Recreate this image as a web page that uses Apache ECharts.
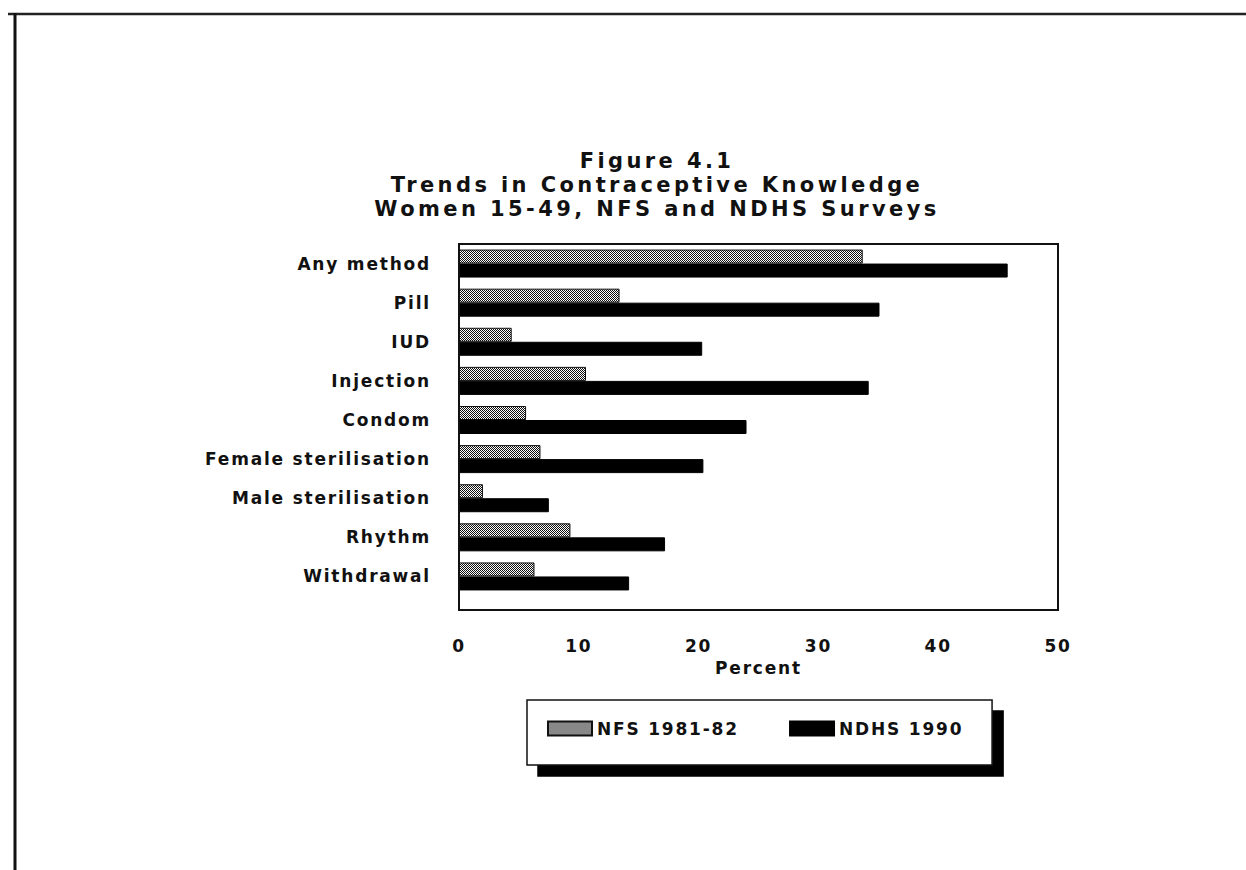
<!DOCTYPE html>
<html>
<head>
<meta charset="utf-8">
<script src="https://cdn.jsdelivr.net/npm/echarts@6/dist/echarts.min.js"></script>
<style>
html,body{margin:0;padding:0;background:#fff;}
#chart{width:1246px;height:870px;}
#chart text{letter-spacing:1.8px;}
#chart text[style*="21px"]{letter-spacing:3.4px;}
</style>
</head>
<body>
<div id="chart"></div>
<script>
const titleLines = ['Figure 4.1', 'Trends in Contraceptive Knowledge', 'Women 15-49, NFS and NDHS Surveys'];
const categories = ['Any method', 'Pill', 'IUD', 'Injection', 'Condom', 'Female sterilisation', 'Male sterilisation', 'Rhythm', 'Withdrawal'];
const nfs1981 = [33.7, 13.4, 4.4, 10.6, 5.6, 6.8, 2.0, 9.3, 6.3];
const ndhs1990 = [45.8, 35.1, 20.3, 34.2, 24.0, 20.4, 7.5, 17.2, 14.2];
const seriesNames = ['NFS 1981-82', 'NDHS 1990'];
const xMin = 0, xMax = 50, xStep = 10;
const xName = 'Percent';

// dithered grey pattern
const pc = document.createElement('canvas');
pc.width = 4; pc.height = 4;
const pctx = pc.getContext('2d');
pctx.fillStyle = '#fff'; pctx.fillRect(0, 0, 4, 4);
pctx.fillStyle = '#111';
[[0,0],[2,0],[1,1],[3,1],[0,2],[2,2],[1,3],[3,3]].forEach(p => pctx.fillRect(p[0], p[1], 1, 1));
const greyPattern = { image: pc.toDataURL(), repeat: 'repeat' };

const font = 'DejaVu Sans, Verdana, sans-serif';
const chart = echarts.init(document.getElementById('chart'), null, { renderer: 'svg' });
chart.setOption({
  backgroundColor: '#fff',
  animation: false,
  title: {
    text: titleLines.join('\n'),
    left: 652,
    textAlign: 'center',
    top: 144,
    textStyle: { fontFamily: font, fontSize: 21, fontWeight: 'bold', lineHeight: 24, color: '#111' }
  },
  graphic: [
    { type: 'line', shape: { x1: 8, y1: 14, x2: 1246, y2: 14 }, style: { stroke: '#222', lineWidth: 2.5 } },
    { type: 'line', shape: { x1: 15, y1: 13, x2: 15, y2: 870 }, style: { stroke: '#111', lineWidth: 3 } },
    { type: 'rect', z: 100, shape: { x: 459, y: 244, width: 599, height: 366 }, style: { fill: 'none', stroke: '#111', lineWidth: 2 } }
  ],
  grid: {
    left: 459, top: 244, right: 188, bottom: 274,
    show: false
  },
  xAxis: {
    type: 'value', min: xMin, max: xMax, interval: xStep,
    name: xName, nameLocation: 'middle', nameGap: 63,
    nameTextStyle: { fontFamily: font, fontSize: 17, fontWeight: 'bold', color: '#111' },
    axisLine: { show: false }, axisTick: { show: false }, splitLine: { show: false },
    axisLabel: { margin: 41, fontFamily: font, fontSize: 17, fontWeight: 'bold', color: '#111' }
  },
  yAxis: {
    type: 'category', data: categories, inverse: true,
    axisLine: { show: false }, axisTick: { show: false }, splitLine: { show: false },
    axisLabel: { margin: 28, fontFamily: font, fontSize: 17, fontWeight: 'bold', color: '#111' }
  },
  legend: {
    data: seriesNames,
    left: 527, top: 700,
    orient: 'horizontal',
    itemWidth: 44, itemHeight: 14, itemGap: 70,
    padding: [20, 45, 28, 20],
    backgroundColor: '#fff', borderColor: '#111', borderWidth: 1.5,
    shadowColor: '#000', shadowBlur: 0, shadowOffsetX: 11, shadowOffsetY: 11,
    textStyle: { fontFamily: font, fontSize: 17, fontWeight: 'bold', color: '#111' },
    icon: 'rect'
  },
  series: [
    {
      name: seriesNames[0], type: 'bar', data: nfs1981,
      barWidth: 14, barGap: '0%',
      itemStyle: { color: greyPattern, borderColor: '#111', borderWidth: 1 }
    },
    {
      name: seriesNames[1], type: 'bar', data: ndhs1990,
      barWidth: 14, barGap: '0%',
      itemStyle: { color: '#000', borderColor: '#000', borderWidth: 1 }
    }
  ]
});
</script>
</body>
</html>
